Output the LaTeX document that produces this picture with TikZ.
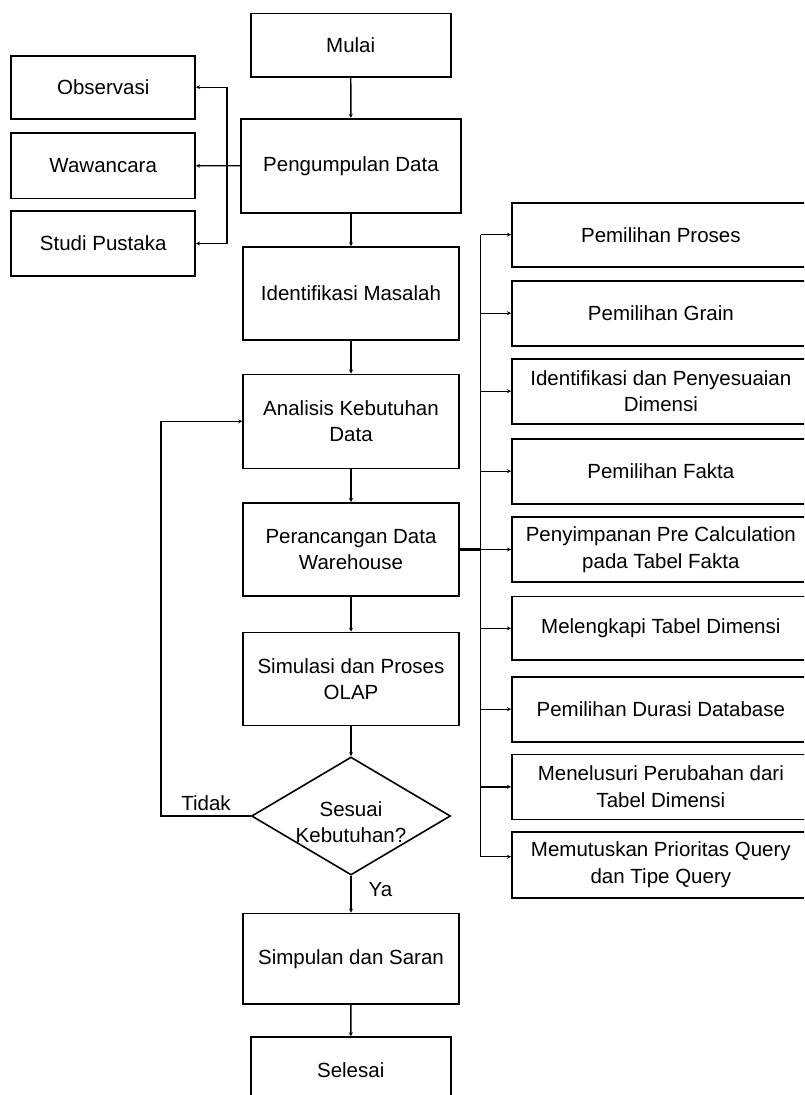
\documentclass[tikz,border=0pt]{standalone}
\usepackage{fontspec}
\setmainfont{Liberation Sans}
\usetikzlibrary{arrows.meta,shapes.geometric}
\begin{document}
\begin{tikzpicture}[x=1pt,y=-1pt,
  txt/.style={font=\fontsize{20.5}{26.5}\selectfont},
  box/.style={txt,draw,line width=1.6pt,align=center,inner sep=0pt},
  mainbox/.style={box,minimum width=216pt,minimum height=93pt},
  sidebox/.style={box,minimum width=184pt},
  stepbox/.style={box,minimum width=298pt,minimum height=65pt},
  decision/.style={draw,line width=1.6pt,diamond,inner sep=0pt,
    minimum width=199pt,minimum height=118pt},
  link/.style={line width=1.4pt},
  arr/.style={link,-{Stealth[length=4pt,width=4pt]}},
  lbl/.style={txt,inner sep=1pt}]
\useasboundingbox (0,0) rectangle (804,1095);
\clip (0,0) rectangle (804,1095);

% main flow
\node[box,minimum width=200pt,minimum height=63.7pt] (mulai) at (350.7,45.2) {Mulai};
\node[box,minimum width=220pt,minimum height=94pt] (kumpul) at (351,165.7) {Pengumpulan Data};
\node[mainbox] (ident) at (351,293.5) {Identifikasi Masalah};
\node[mainbox,minimum height=94pt] (anal) at (351,421.3) {Analisis Kebutuhan\\Data};
\node[mainbox] (ranc) at (351,549.3) {Perancangan Data\\Warehouse};
\node[mainbox] (simul) at (351,679) {Simulasi dan Proses\\OLAP};
\node[decision] (dec) at (351,816) {};
\node[txt,align=center,inner sep=0pt] (dectxt) at (351,822) {Sesuai\\Kebutuhan?};
\node[mainbox,minimum height=90.7pt] (simp) at (351,958.7) {Simpulan dan Saran};
\node[box,minimum width=200pt,minimum height=66pt] (selesai) at (350.7,1070) {Selesai};

% data collection methods
\node[sidebox,minimum height=63pt] (obs) at (103.2,87.2) {Observasi};
\node[sidebox,minimum height=65.7pt] (waw) at (103.2,165.8) {Wawancara};
\node[sidebox,minimum height=65pt] (studi) at (103.2,243.5) {Studi Pustaka};

% data warehouse design steps
\node[stepbox,minimum height=64pt] (p1) at (660.85,234.7) {Pemilihan Proses};
\node[stepbox] (p2) at (660.85,313.2) {Pemilihan Grain};
\node[stepbox] (p3) at (660.85,391.2) {Identifikasi dan Penyesuaian\\Dimensi};
\node[stepbox] (p4) at (660.85,471.2) {Pemilihan Fakta};
\node[stepbox] (p5) at (660.85,549.5) {Penyimpanan Pre Calculation\\pada Tabel Fakta};
\node[stepbox,minimum height=63.3pt] (p6) at (660.85,628.3) {Melengkapi Tabel Dimensi};
\node[stepbox] (p7) at (660.85,709.2) {Pemilihan Durasi Database};
\node[stepbox] (p8) at (660.85,786.8) {Menelusuri Perubahan dari\\Tabel Dimensi};
\node[stepbox,minimum height=66pt] (p9) at (660.85,864.7) {Memutuskan Prioritas Query\\dan Tipe Query};

% vertical connectors
\draw[arr] (mulai) -- (kumpul);
\draw[arr] (kumpul) -- (ident);
\draw[arr] (ident) -- (anal);
\draw[arr] (anal) -- (ranc);
\draw[arr] (ranc) -- (simul);
\draw[arr] (simul) -- (dec.north);
\draw[arr] (dec.south) -- (simp);
\draw[arr] (simp) -- (selesai);
\node[lbl] (ya) at (380.5,890) {Ya};

% loop back
\coordinate (loop) at (161,816);
\draw[arr] (dec.west) -- (loop) |- (anal.west);
\node[lbl] (tidak) at (206,802.7) {Tidak};

% fan-out to collection methods
\coordinate (jl) at (227,165.7);
\draw[arr] (kumpul.west) -- (waw.east);
\draw[arr] (jl) |- (obs.east);
\draw[arr] (jl) |- (studi.east);

% fan-out to design steps
\coordinate (sp) at (480.7,549.3);
\coordinate (p9in) at ([yshift=8pt]p9.west);
\draw[line width=2.4pt] (ranc.east) -- (sp);
\draw[link] (sp |- p1.west) -- (sp |- p9in);
\foreach \n in {p1,p2,p3,p4,p5,p6,p7,p8}
  \draw[arr] (sp |- \n.west) -- (\n.west);
\draw[arr] (sp |- p9in) -- (p9in);
\end{tikzpicture}
\end{document}
